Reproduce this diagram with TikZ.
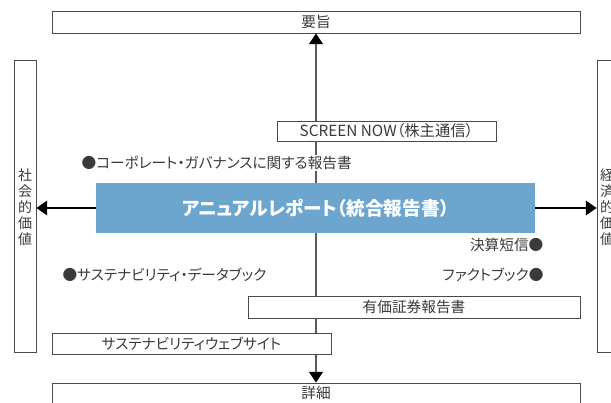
\documentclass[tikz,border=0pt]{standalone}
\usepackage{fontspec}
\setmainfont[RawFeature=+palt]{Noto Sans CJK JP}
\usetikzlibrary{arrows.meta}
\definecolor{boxline}{HTML}{4A4A4A}
\definecolor{txt}{HTML}{3A3A3A}
\definecolor{annual}{HTML}{6CA6CF}
\begin{document}
\begin{tikzpicture}[x=0.75pt,y=-0.75pt,
  every node/.style={text=txt,font=\fontsize{11}{13}\selectfont},
  box/.style={draw=boxline,line width=0.7pt,fill=white,inner sep=0pt},
  sidebox/.style={draw=boxline,line width=0.7pt,inner sep=0pt,minimum width=16.5pt,minimum height=219pt},
  vtext/.style={align=center,inner sep=0pt,font=\fontsize{10.5}{12}\selectfont},
  plain/.style={inner sep=1pt},
  spine/.style={draw=black!65,line width=1pt},
  tip/.style={-{Triangle[length=8pt,width=10.5pt,color=black]}},
  harrow/.style={draw=black,line width=1pt,-{Triangle[length=8pt,width=11pt]}}
]
\useasboundingbox (0,0) rectangle (611,403);
\clip (0,0) rectangle (611,403);
\coordinate (xl) at (316,0);
% boxes
\node[box,minimum width=396pt,minimum height=16.5pt] (yoshi) at (316,22) {要旨};
\node[box,minimum width=164.25pt,minimum height=15pt,font=\fontsize{11.5}{13}\selectfont] (screen) at (386.5,131) {SCREEN NOW（株主通信）};
\node[fill=annual,inner sep=0pt,minimum width=329.25pt,minimum height=37.5pt,text=white,font=\fontsize{14}{16}\selectfont\bfseries] (annual) at (315.5,208) {アニュアルレポート（統合報告書）};
\node[box,minimum width=249pt,minimum height=16.5pt] (yuka) at (414,307) {有価証券報告書};
\node[box,minimum width=209.25pt,minimum height=15.75pt] (web) at (191.5,343.5) {サステナビリティウェブサイト};
\node[box,minimum width=396pt,minimum height=30pt] (shosai) at (316,403) {};
\node[plain] (shosaitxt) at (316,393) {詳細};
% side boxes
\node[sidebox] (social) at (25,206) {};
\node[vtext] (socialtxt) at (25,207) {社\\会\\的\\価\\値};
\node[sidebox] (econ) at (608,206) {};
\node[vtext] (econtxt) at (607,207) {経\\済\\的\\価\\値};
% spine
\draw[spine] (screen.south -| xl) -- (annual.north -| xl);
\draw[spine] (annual.south -| xl) -- (yuka.north -| xl);
\draw[spine] (yuka.south -| xl) -- (web.north -| xl);
\draw[spine,tip] (screen.north -| xl) -- (yoshi.south -| xl);
\draw[spine,tip] (web.south -| xl) -- (shosai.north -| xl);
% horizontal arrows
\draw[harrow] (annual.west) -- (annual.west -| social.east);
\draw[harrow] (annual.east) -- (annual.east -| econ.west);
% labels
\node[plain,fill=white,anchor=west] (corp) at (80,163) {●コーポレート・ガバナンスに関する報告書};
\node[plain,anchor=east] (kessan) at (545,245) {決算短信●};
\node[plain,anchor=west] (sdb) at (61,275) {●サステナビリティ・データブック};
\node[plain,anchor=east] (fact) at (545,275) {ファクトブック●};
\end{tikzpicture}
\end{document}
